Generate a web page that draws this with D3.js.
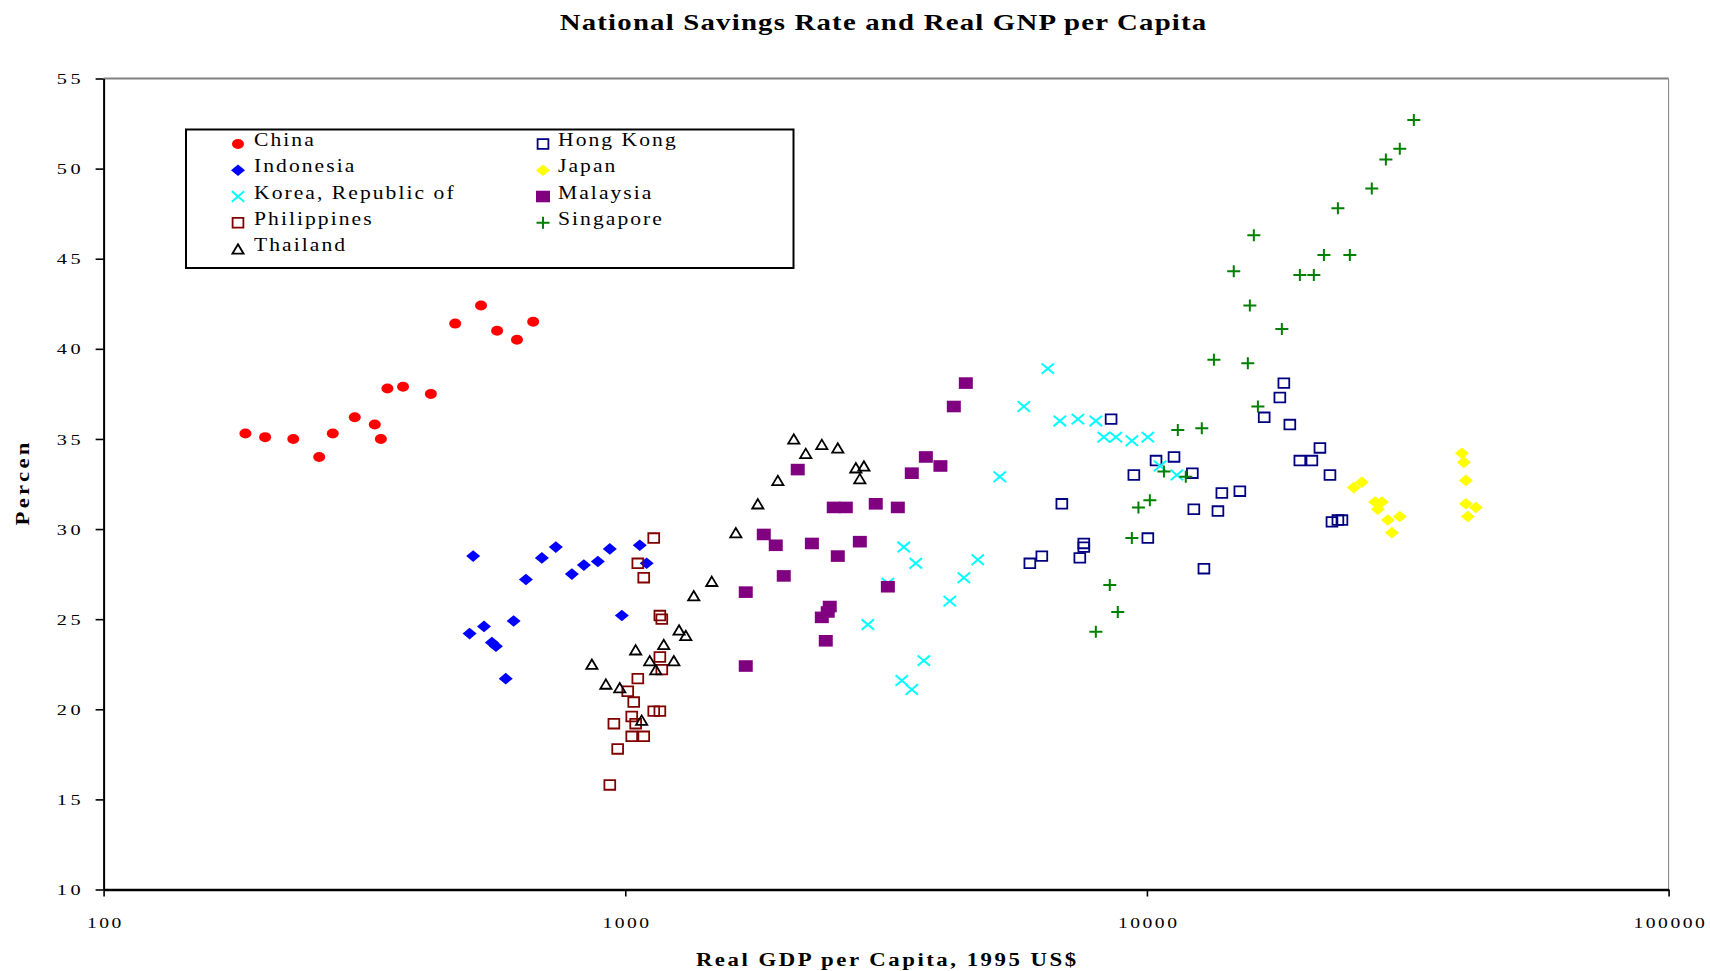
<!DOCTYPE html>
<html><head><meta charset="utf-8">
<script src="https://cdn.jsdelivr.net/npm/d3@7"></script>
<style>
html,body{margin:0;padding:0;background:#fff;}
svg{display:block;}
</style></head><body>
<svg id="chart" width="1710" height="971"></svg>
<script>
// ---------------- data ----------------
const titleText = "National Savings Rate and Real GNP per Capita";
const xTitleText = "Real GDP per Capita, 1995 US$";
const yTitleText = "Percen";
const xTickValues = [100, 1000, 10000, 100000];
const yTickValues = [10, 15, 20, 25, 30, 35, 40, 45, 50, 55];

const countries = ["China", "Hong Kong", "Indonesia", "Japan", "Korea, Republic of", "Malaysia", "Philippines", "Singapore", "Thailand"];

const chinaX = [187, 204, 231, 259, 275, 303, 331, 340, 350, 375, 424, 472, 529, 568, 620, 666];
const chinaY = [35.3, 35.1, 35.0, 34.0, 35.3, 36.2, 35.8, 35.0, 37.8, 37.9, 37.5, 41.4, 42.4, 41.0, 40.5, 41.5];

const hongKongX = [8537, 18300, 17980, 16780, 18790, 21460, 19640, 20710, 22430, 10410, 11270, 9439, 12220, 13920, 15070, 12300, 13680, 22630, 23230, 23650, 6869, 10040, 7568, 7568, 7436, 6288, 5964, 12860];
const hongKongY = [36.1, 38.1, 37.3, 36.2, 35.8, 34.5, 33.8, 33.8, 33.0, 33.8, 34.0, 33.0, 33.1, 32.0, 32.1, 31.1, 31.0, 30.4, 30.5, 30.5, 31.4, 29.5, 29.2, 29.0, 28.4, 28.5, 28.1, 27.8];

const indonesiaX = [511, 645, 692, 736, 790, 833, 886, 934, 1066, 1099, 985, 503, 536, 611, 555, 565, 590];
const indonesiaY = [28.5, 27.2, 28.4, 29.0, 27.5, 28.0, 28.2, 28.9, 29.1, 28.1, 25.2, 24.2, 24.6, 24.9, 23.7, 23.5, 21.7];

const japanX = [40160, 40510, 40870, 40870, 42720, 41230, 24920, 25820, 27380, 28210, 27710, 28960, 30530, 29480];
const japanY = [34.2, 33.7, 32.7, 31.4, 31.2, 30.7, 32.3, 32.6, 31.5, 31.5, 31.1, 30.5, 30.7, 29.8];

const koreaX = [6457, 5808, 6808, 7373, 7980, 8268, 8717, 9356, 10040, 5224, 3419, 3605, 4740, 4457, 4189, 3187, 2917, 3735, 3389, 3542, 10600, 11410];
const koreaY = [38.9, 36.8, 36.0, 36.1, 36.0, 35.1, 35.1, 34.9, 35.1, 32.9, 29.0, 28.1, 28.3, 27.3, 26.0, 27.0, 24.7, 22.7, 21.6, 21.1, 33.5, 33.0];

const malaysiaX = [4496, 4264, 3769, 4019, 3542, 2141, 2510, 2647, 3021, 3330, 1843, 1943, 2279, 2816, 2555, 2013, 1702, 3187, 2466, 2444, 2381, 2423, 1702];
const malaysiaY = [38.1, 36.8, 34.0, 33.5, 33.1, 33.3, 31.2, 31.2, 31.4, 31.2, 29.7, 29.1, 29.2, 29.3, 28.5, 27.4, 26.5, 26.8, 25.7, 25.4, 25.1, 23.8, 22.4];

const philippinesX = [1134, 1057, 1085, 1165, 1175, 1165, 1175, 1057, 1011, 1038, 1134, 1165, 951, 1029, 1047, 1029, 1085, 967, 934];
const philippinesY = [29.5, 28.1, 27.3, 25.2, 25.0, 22.9, 22.2, 21.7, 21.0, 20.4, 19.9, 19.9, 19.2, 19.6, 19.2, 18.5, 18.5, 17.8, 15.8];

const singaporeX = [32480, 30530, 28710, 26980, 23230, 16030, 21840, 24490, 14670, 19640, 20890, 15750, 18140, 13440, 15610, 16320, 11460, 12740, 10780, 11870, 10130, 9632, 9356, 8488, 8793, 7981];
const singaporeY = [52.7, 51.1, 50.5, 48.9, 47.8, 46.3, 45.2, 45.2, 44.3, 44.1, 44.1, 42.4, 41.1, 39.4, 39.2, 36.8, 35.5, 35.6, 33.2, 32.9, 31.6, 31.2, 29.5, 26.9, 25.4, 24.3];

const thailandX = [2104, 2218, 2381, 2555, 2767, 2867, 2816, 1961, 1795, 1629, 1465, 1353, 1268, 1306, 1185, 1047, 863, 918, 976, 1114, 1144, 1239, 1075];
const thailandY = [35.0, 34.2, 34.7, 34.5, 33.4, 33.5, 32.8, 32.7, 31.4, 29.8, 27.1, 26.3, 24.4, 24.1, 23.6, 23.3, 22.5, 21.4, 21.2, 22.7, 22.2, 22.7, 19.4];

const seriesX = [chinaX, hongKongX, indonesiaX, japanX, koreaX, malaysiaX, philippinesX, singaporeX, thailandX];
const seriesY = [chinaY, hongKongY, indonesiaY, japanY, koreaY, malaysiaY, philippinesY, singaporeY, thailandY];

// ---------------- styles ----------------
const FONT = "'Liberation Serif','Times New Roman',serif";
const styles = [
  {shape: "circle",   fill: "#FF0000", stroke: "none",    sw: 0,   hw: 6.0, hh: 5.0},
  {shape: "square",   fill: "none",    stroke: "#000080", sw: 1.8, hw: 5.4, hh: 4.8},
  {shape: "diamond",  fill: "#0000FF", stroke: "none",    sw: 0,   hw: 7.0, hh: 5.8},
  {shape: "diamond",  fill: "#FFFF00", stroke: "none",    sw: 0,   hw: 7.0, hh: 5.8},
  {shape: "cross",    fill: "none",    stroke: "#00FFFF", sw: 2,   hw: 6.2, hh: 5.2},
  {shape: "square",   fill: "#800080", stroke: "none",    sw: 0,   hw: 7.0, hh: 5.8},
  {shape: "square",   fill: "none",    stroke: "#800000", sw: 1.8, hw: 5.4, hh: 4.8},
  {shape: "plus",     fill: "none",    stroke: "#008000", sw: 2,   hw: 6.5, hh: 6.0},
  {shape: "triangle", fill: "none",    stroke: "#000000", sw: 1.8, hw: 5.6, hh: 4.7}
];
const shapePath = {
  circle: (w, h) => `M${-w},0A${w},${h} 0 1,0 ${w},0A${w},${h} 0 1,0 ${-w},0Z`,
  square: (w, h) => `M${-w},${-h}H${w}V${h}H${-w}Z`,
  diamond: (w, h) => `M0,${-h}L${w},0L0,${h}L${-w},0Z`,
  triangle: (w, h) => `M0,${-h}L${w},${h}H${-w}Z`,
  cross: (w, h) => `M${-w},${-h}L${w},${h}M${-w},${h}L${w},${-h}`,
  plus: (w, h) => `M${-w},0H${w}M0,${-h}V${h}`
};

const svg = d3.select("#chart");
svg.append("rect").attr("width", 1710).attr("height", 971).attr("fill", "#fff");

const x = d3.scaleLog().domain([100, 100000]).range([103.6, 1668.6]);
const y = d3.scaleLinear().domain([10, 55]).range([889.5, 78.5]);

function stext(parent, px, py, str, o) {
  const g = parent.append("g")
    .attr("transform", `translate(${px},${py}) rotate(${o.rot || 0}) scale(${o.sx || 1},1)`);
  const anchor = o.anchor || "start";
  const ls = o.ls || 0;
  const t = g.append("text").text(str)
    .attr("font-family", FONT)
    .attr("font-size", o.size)
    .attr("font-weight", o.bold ? "bold" : "normal")
    .attr("letter-spacing", ls)
    .attr("text-anchor", anchor)
    .attr("fill", "#000");
  if (anchor === "middle") t.attr("dx", ls / 2);
  if (anchor === "end") t.attr("dx", ls);
  if (o.dy) t.attr("dy", o.dy);
  return t;
}

// ---------------- frame ----------------
svg.append("line")
  .attr("x1", x(100)).attr("x2", x(100000)).attr("y1", y(55)).attr("y2", y(55))
  .attr("stroke", "#808080").attr("stroke-width", 2);
svg.append("line")
  .attr("x1", x(100000)).attr("x2", x(100000)).attr("y1", y(55)).attr("y2", y(10))
  .attr("stroke", "#808080").attr("stroke-width", 1);

// y axis
const yAxisG = svg.append("g").attr("transform", `translate(${x(100)},0)`)
  .call(d3.axisLeft(y).tickValues(yTickValues).tickSize(8).tickSizeOuter(0).tickFormat(""));
yAxisG.select(".domain").attr("stroke", "#000").attr("stroke-width", 2);
yAxisG.selectAll(".tick line").attr("stroke", "#000").attr("stroke-width", 1.6);
yAxisG.selectAll(".tick").each(function(d) {
  stext(d3.select(this), -23, 0, String(d), {size: 14.5, sx: 1.4, ls: 2.5, anchor: "end", dy: "0.35em"});
});

// x axis
const xAxisG = svg.append("g").attr("transform", `translate(0,${y(10)})`)
  .call(d3.axisBottom(x).tickValues(xTickValues).tickSize(7).tickSizeOuter(0).tickFormat(""));
xAxisG.select(".domain").attr("stroke", "#000").attr("stroke-width", 2.5);
xAxisG.selectAll(".tick line").attr("stroke", "#000").attr("stroke-width", 1.6);
xAxisG.selectAll(".tick").each(function(d) {
  stext(d3.select(this), 0, 38.5, String(d), {size: 14, sx: 1.4, ls: 1.8, anchor: "middle"});
});

// titles
stext(svg, 883, 30, titleText, {size: 24, bold: true, sx: 1.2, ls: 1.0, anchor: "middle"});
stext(svg, 886, 966, xTitleText, {size: 19, bold: true, sx: 1.2, ls: 2.1, anchor: "middle"});
stext(svg, 29, 484, yTitleText, {size: 19, bold: true, sx: 1.2, ls: 2.7, anchor: "middle", rot: -90});

// ---------------- points ----------------
countries.forEach((name, i) => {
  const st = styles[i];
  const pts = seriesX[i].map((v, j) => [v, seriesY[i][j]]);
  svg.append("g").attr("class", "series")
    .selectAll("path").data(pts).join("path")
    .attr("transform", d => `translate(${x(d[0])},${y(d[1])})`)
    .attr("d", shapePath[st.shape](st.hw, st.hh))
    .attr("fill", st.fill)
    .attr("stroke", st.stroke)
    .attr("stroke-width", st.sw);
});

// ---------------- legend ----------------
const lg = svg.append("g");
lg.append("rect").attr("x", 186).attr("y", 129.5).attr("width", 607.5).attr("height", 138.5)
  .attr("fill", "#fff").attr("stroke", "#000").attr("stroke-width", 2);
countries.forEach((name, i) => {
  const st = styles[i];
  const col = i % 2, row = Math.floor(i / 2);
  const mx = col === 0 ? 238 : 543;
  const tx = col === 0 ? 254 : 558;
  const by = 146 + row * 26.25;
  lg.append("path")
    .attr("transform", `translate(${mx},${by - 2})`)
    .attr("d", shapePath[st.shape](st.hw, st.hh))
    .attr("fill", st.fill).attr("stroke", st.stroke).attr("stroke-width", st.sw);
  stext(lg, tx, by, name, {size: 18, sx: 1.2, ls: 1.7});
});
</script>
</body></html>
